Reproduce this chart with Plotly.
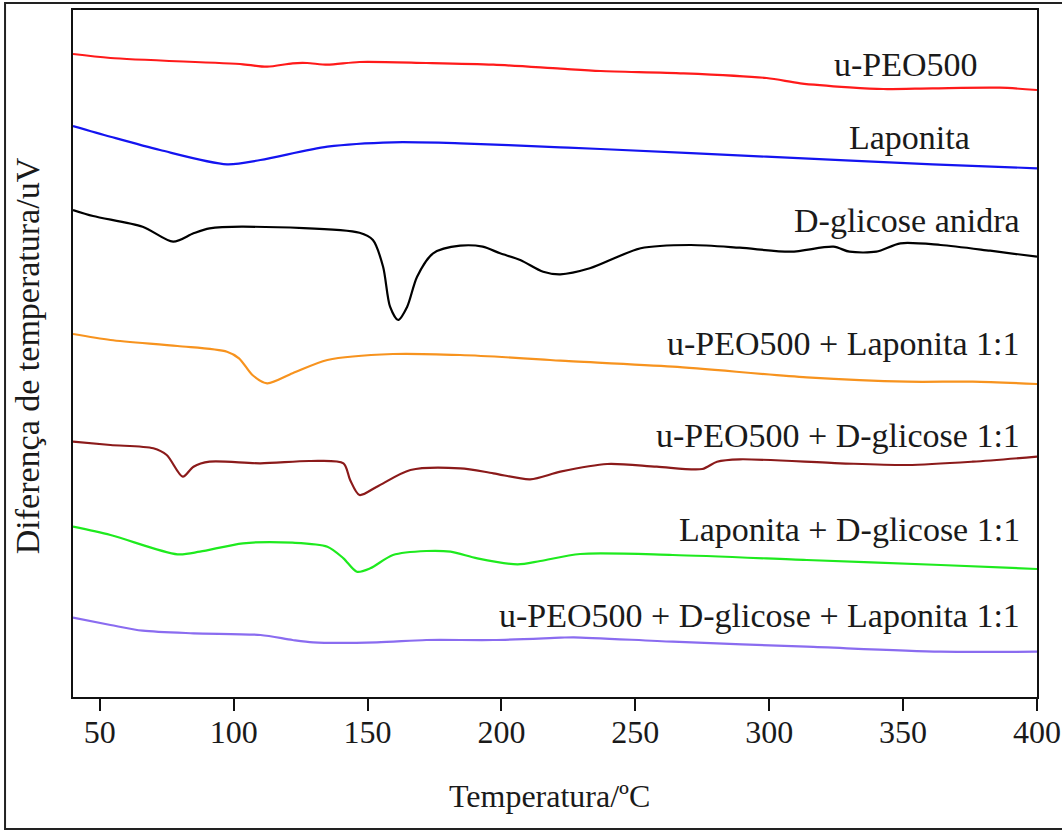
import plotly.graph_objects as go

# ---- Data (temperature in degC, signal in arbitrary uV units, curves offset) ----
t_peo = [40, 54, 103.5, 112.5, 122, 127.4, 135, 147, 172, 197, 222, 237, 268, 299, 311.6, 330, 342.6, 361, 386, 400]
y_peo = [64.3, 63.9, 63.27, 63.03, 63.37, 63.4, 63.23, 63.5, 63.4, 63.23, 62.83, 62.6, 62.37, 61.9, 61.37, 60.97, 60.8, 60.87, 60.93, 60.7]

t_lap = [40, 54, 72.5, 97.5, 110, 135, 159.5, 184.6, 222, 237, 299, 361, 400]
y_lap = [57.1, 56.03, 54.7, 53.27, 53.7, 55.03, 55.47, 55.37, 54.97, 54.8, 54.03, 53.27, 52.87]

t_glc = [40, 47.5, 66, 77.4, 85, 91, 103.5, 147, 152, 155.8, 158.4, 161.4, 164.8, 168.5, 174.5, 184.6,
         193, 199.5, 207, 215.6, 222, 233, 252, 270.5, 289, 308, 324, 330, 340, 349, 364, 382.5, 400]
y_glc = [48.7, 48.1, 47.03, 45.53, 46.37, 46.87, 47.03, 46.43, 45.7, 43.03, 39.03, 37.7, 39.03, 42.03, 44.37, 45.13,
         45.03, 44.37, 43.7, 42.53, 42.27, 42.87, 44.87, 45.2, 44.93, 44.53, 45.03, 44.53, 44.53, 45.37, 45.2, 44.63, 44.03]

t_peo_lap = [40, 54, 79, 97.5, 102, 107, 112.5, 122, 135, 159.5, 184.6, 214.5, 222, 264, 314, 351.6, 376, 400]
y_peo_lap = [36.3, 35.7, 35.1, 34.53, 33.87, 32.2, 31.37, 32.37, 33.7, 34.3, 34.2, 33.77, 33.63, 33.03, 31.97, 31.53, 31.53, 31.3]

t_peo_glc = [40, 54, 70, 75, 81, 85, 91, 110, 128.5, 141, 143.5, 147, 153.5, 166, 184.6, 197, 210.7, 222,
             239.5, 258, 275, 280.5, 289, 326.5, 351.6, 376, 400]
y_peo_glc = [25.53, 25.2, 24.87, 24.2, 22.03, 23.03, 23.53, 23.37, 23.6, 23.37, 21.7, 20.2, 21.03, 22.7, 22.87, 22.37, 21.77, 22.53,
             23.3, 23.03, 22.8, 23.53, 23.77, 23.37, 23.2, 23.53, 24.03]

t_lap_glc = [40, 54, 79, 87.4, 103.5, 122, 135, 141, 146, 151, 159.5, 172, 181, 191, 206, 214.5, 229.4, 264, 314, 364, 400]
y_lap_glc = [17.03, 16.2, 14.27, 14.53, 15.37, 15.43, 15.03, 13.87, 12.53, 12.87, 14.2, 14.6, 14.53, 13.87, 13.27, 13.6, 14.3, 14.2, 13.7, 13.2, 12.8]

t_all = [40, 54, 66, 85, 110, 122, 129.7, 153.5, 172, 197, 222, 227, 264, 314, 364, 400]
y_all = [7.93, 7.2, 6.63, 6.37, 6.2, 5.7, 5.47, 5.47, 5.7, 5.7, 5.93, 5.97, 5.53, 5.03, 4.53, 4.53]

labels = ["u-PEO500", "Laponita", "D-glicose anidra", "u-PEO500 + Laponita 1:1",
          "u-PEO500 + D-glicose 1:1", "Laponita + D-glicose 1:1", "u-PEO500 + D-glicose + Laponita 1:1"]
x_ticks = [50, 100, 150, 200, 250, 300, 350, 400]

series = [
    (t_peo, y_peo, "#ff1a1a"),
    (t_lap, y_lap, "#1414f0"),
    (t_glc, y_glc, "#000000"),
    (t_peo_lap, y_peo_lap, "#f7931e"),
    (t_peo_glc, y_peo_glc, "#8b1a1a"),
    (t_lap_glc, y_lap_glc, "#1eea1e"),
    (t_all, y_all, "#8a6cf0"),
]

FONT = "Liberation Serif, Times New Roman, Times, serif"
fig = go.Figure()
for (tx, ty, col), name in zip(series, labels):
    fig.add_trace(go.Scatter(x=tx, y=ty, mode="lines", name=name,
                             line=dict(color=col, width=2.2, shape="spline", smoothing=0.8),
                             showlegend=False))

# invisible helper trace so the label axis is drawn
fig.add_trace(go.Scatter(x=[x_ticks[0], x_ticks[-1]], y=[None, None], xaxis="x2", mode="lines",
                         showlegend=False, hoverinfo="skip"))

# label positions (paper coords): right edge x, vertical centre y
label_pos = [(0.941, 0.921), (0.9326, 0.815), (0.9844, 0.694), (0.9844, 0.515),
             (0.9844, 0.380), (0.9844, 0.244), (0.9844, 0.119)]
for name, (px, py) in zip(labels, label_pos):
    fig.add_annotation(text=name, xref="paper", yref="paper", x=px, y=py,
                       xanchor="right", yanchor="middle", showarrow=False,
                       font=dict(family=FONT, size=34, color="#1a1a1a"))

fig.add_annotation(text="Temperatura/ºC", xref="paper", yref="paper", x=0.4948, y=-0.144,
                   xanchor="center", yanchor="middle", showarrow=False,
                   font=dict(family=FONT, size=32, color="#1a1a1a"))
fig.add_annotation(text="Diferença de temperatura/uV", xref="paper", yref="paper", x=-0.047, y=0.497,
                   xanchor="center", yanchor="middle", textangle=-90, showarrow=False,
                   font=dict(family=FONT, size=34, color="#1a1a1a"))

# outer frame
fig.add_shape(type="rect", xref="paper", yref="paper", x0=-0.0705, x1=1.04, y0=-0.192, y1=1.0102,
              line=dict(color="#222222", width=2))

fig.update_layout(
    xaxis=dict(range=[40, 400], tickvals=x_ticks, ticks="outside", ticklen=12, tickwidth=2,
               tickcolor="#111", showline=True, linecolor="#111", linewidth=2, mirror=True,
               showgrid=False, zeroline=False, automargin=False, showticklabels=False),
    xaxis2=dict(range=[40, 400], tickvals=x_ticks, overlaying="x", side="bottom", anchor="y",
                ticks="outside", ticklen=7, tickcolor="rgba(0,0,0,0)", showline=False,
                showgrid=False, zeroline=False, automargin=False,
                tickfont=dict(family=FONT, size=32, color="#1a1a1a")),
    yaxis=dict(range=[0, 68.7], showticklabels=False, ticks="", showline=True, linecolor="#111",
               linewidth=2, mirror=True, showgrid=False, zeroline=False, automargin=False),
    width=1062, height=832, margin=dict(l=73, r=25, t=10, b=135, autoexpand=False),
    paper_bgcolor="white", plot_bgcolor="white",
)

fig.write_html("out.html")
